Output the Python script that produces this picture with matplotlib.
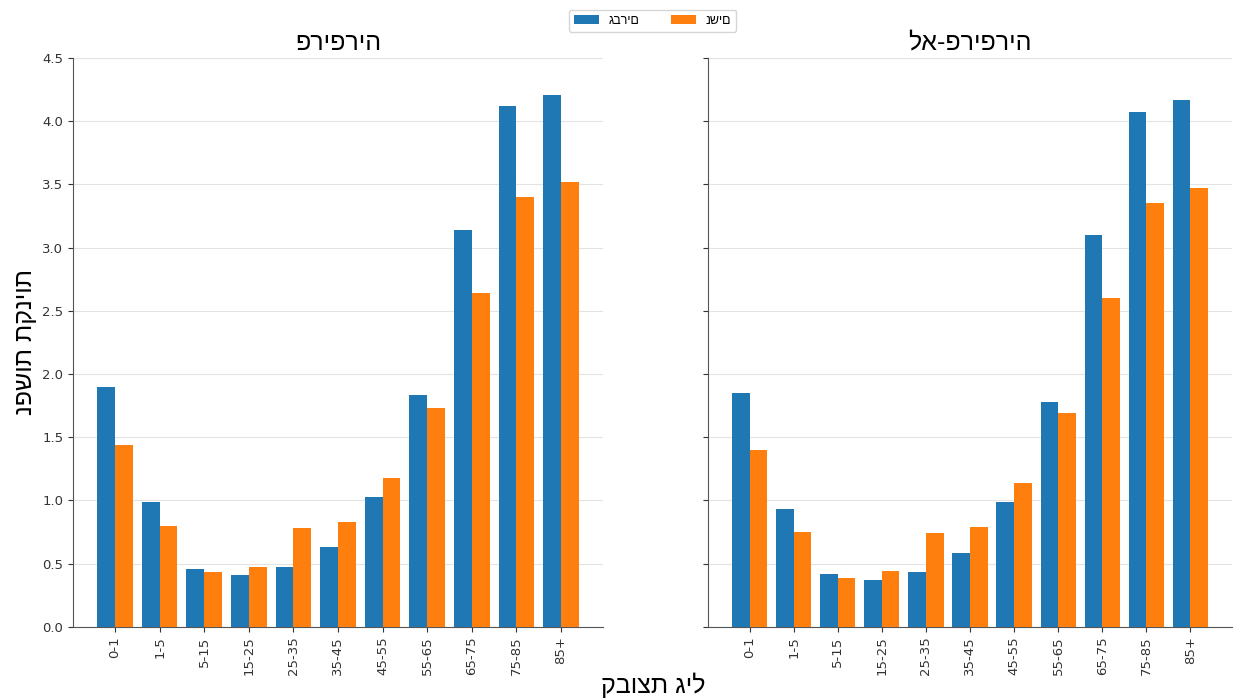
import numpy as np
import matplotlib.pyplot as plt

# age groups and values
age_groups = ["0-1", "1-5", "5-15", "15-25", "25-35", "35-45", "45-55", "55-65", "65-75", "75-85", "85+"]

periphery_men = [1.90, 0.99, 0.46, 0.41, 0.47, 0.63, 1.03, 1.83, 3.14, 4.12, 4.21]
periphery_women = [1.44, 0.80, 0.43, 0.47, 0.78, 0.83, 1.18, 1.73, 2.64, 3.40, 3.52]

center_men = [1.85, 0.93, 0.42, 0.37, 0.43, 0.58, 0.99, 1.78, 3.10, 4.07, 4.17]
center_women = [1.40, 0.75, 0.39, 0.44, 0.74, 0.79, 1.14, 1.69, 2.60, 3.35, 3.47]

titles = ["פריפריה", "לא-פריפריה"]
men_label = "גברים"
women_label = "נשים"

plt.rcParams['font.family'] = ['DejaVu Sans']
heb = ['Liberation Sans', 'DejaVu Sans']

fig = plt.figure(figsize=(12.38, 6.98), dpi=100)
ax1 = fig.add_axes([0.059, 0.102, 0.428, 0.815])
ax2 = fig.add_axes([0.572, 0.102, 0.423, 0.815], sharey=ax1)

x = np.arange(len(age_groups))
w = 0.4
blue = "#1f77b4"
orange = "#ff7f0e"

for ax, men, women, title in [(ax1, periphery_men, periphery_women, titles[0]),
                              (ax2, center_men, center_women, titles[1])]:
    ax.bar(x - w / 2, men, w, color=blue, label=men_label, zorder=3)
    ax.bar(x + w / 2, women, w, color=orange, label=women_label, zorder=3)
    ax.set_xticks(x)
    ax.set_xticklabels(age_groups, rotation=90, fontsize=9.5)
    ax.set_title(title, fontsize=18, family=heb)
    ax.yaxis.grid(True, color="#e3e3e3", linewidth=0.8, zorder=0)
    ax.spines["top"].set_visible(False)
    ax.spines["right"].set_visible(False)
    ax.spines["left"].set_color("#555555")
    ax.spines["bottom"].set_color("#555555")
    ax.tick_params(colors="#333333", labelsize=9.5)

ax1.set_ylim(0, 4.5)
ax1.set_yticks(np.arange(0, 4.51, 0.5))
ax2.tick_params(axis="y", labelleft=False)

ax1.set_ylabel("נפשות תקניות", fontsize=18, family=heb)
fig.text(0.528, 0.0, "קבוצת גיל", ha="center", va="bottom", fontsize=18, family=heb)

handles, labels = ax1.get_legend_handles_labels()
fig.legend(handles, labels, loc="upper center", bbox_to_anchor=(0.527, 0.995), ncol=2,
           prop={'family': heb, 'size': 9}, columnspacing=2.5)

fig.savefig("out.png", dpi=100)
